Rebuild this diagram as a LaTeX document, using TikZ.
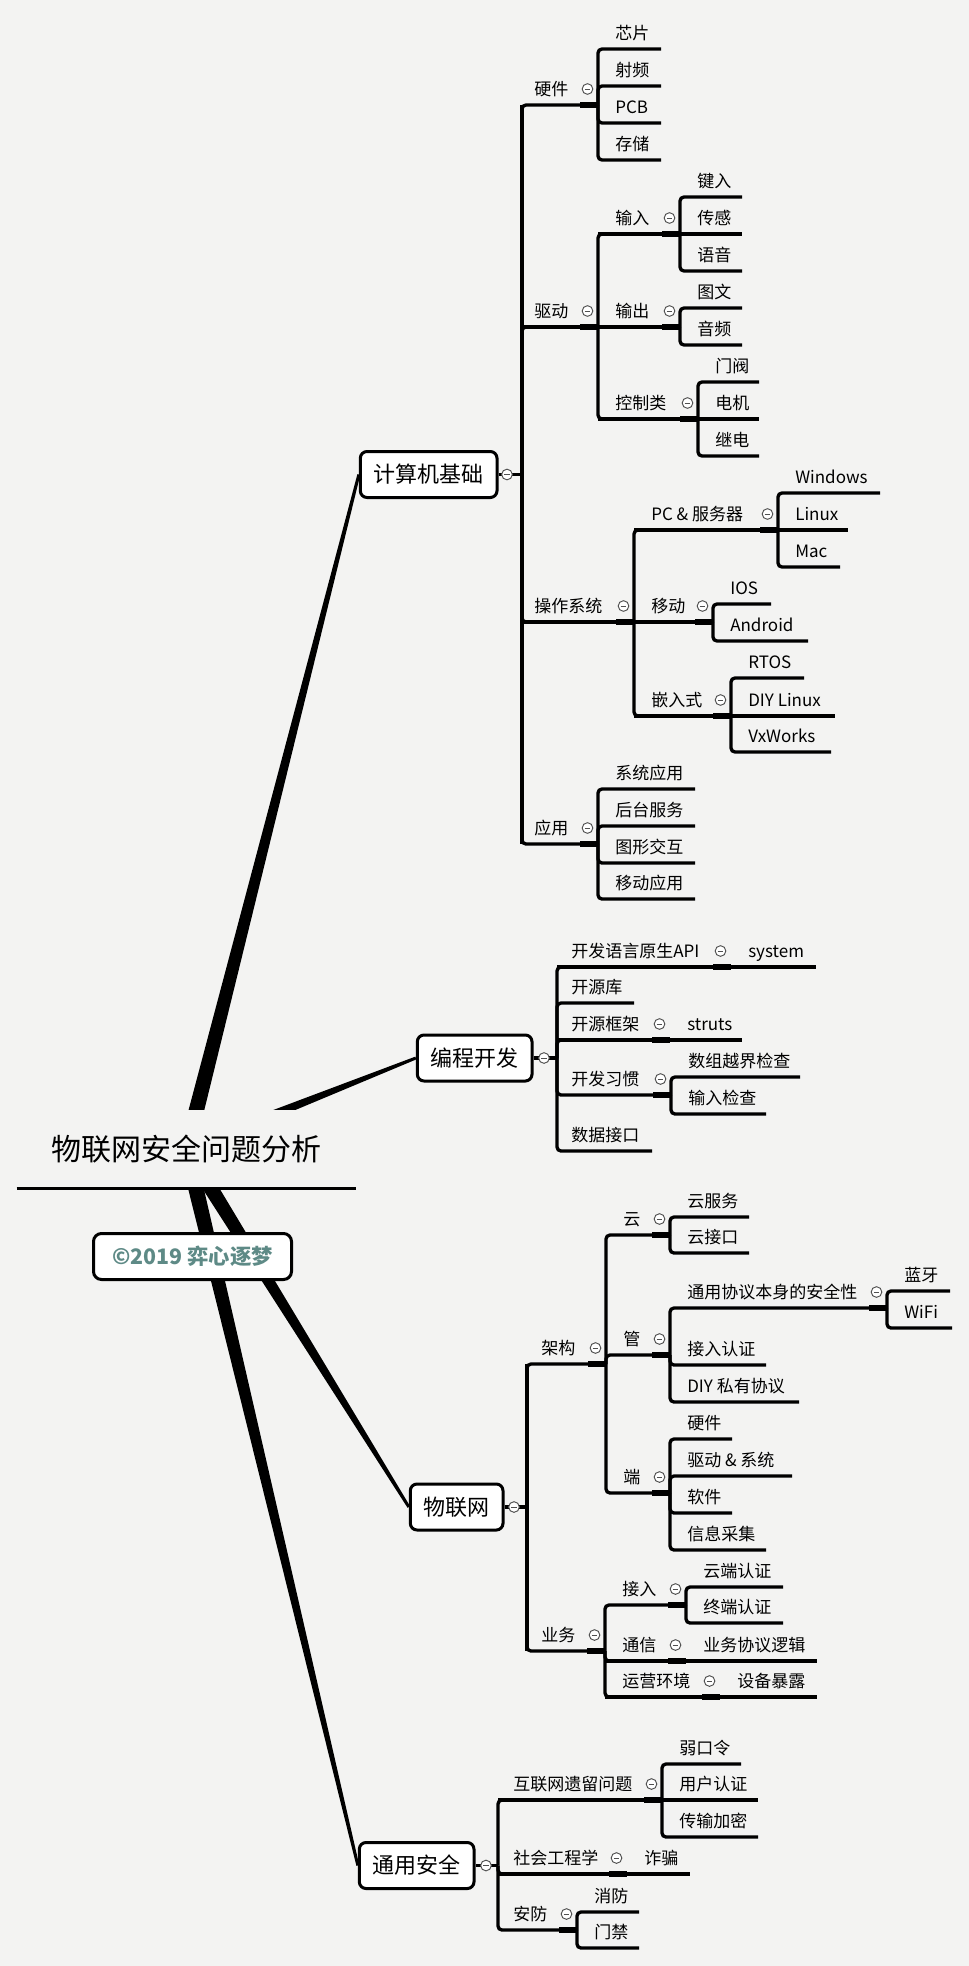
\documentclass[tikz,border=0pt]{standalone}
\usepackage{fontspec}
\setmainfont{Noto Sans CJK SC}
\usetikzlibrary{calc,backgrounds}
\definecolor{paper}{RGB}{243,243,242}
\definecolor{sage}{RGB}{94,138,134}
\definecolor{knob}{RGB}{80,80,80}
% one sub-topic: [label gap]{name}{parent junction}{x0}{y}{x1}{text}
\newcommand{\branch}[7][17]{%
  \coordinate (#2-a) at (#4,#5);
  \coordinate (#2-b) at (#6,#5);
  \node[lbl] (#2) at ([shift={(#1,-9.5)}]#2-a) {#7};
  \draw[ul] (#3) -- (#2-a) -- (#2-b);}
% collapse knob and thick stub in front of a bracket
\newcommand{\fold}[1]{%
  \draw[stub] ([xshift=-13.5pt]#1-b) -- (#1-b);
  \node[fold] (#1-f) at ([shift={(-10.5,-16)}]#1-b) {};}
% tapered main branch
\newcommand{\spoke}[3]{%
  \fill ($(#1)!#3!90:(#2)$) -- ($(#2)!1.1pt!-90:(#1)$) -- ($(#2)!1.1pt!90:(#1)$) -- ($(#1)!#3!-90:(#2)$) -- cycle;}
\tikzset{
  lbl/.style={anchor=base west, inner sep=0pt, font=\fontsize{12.75pt}{15pt}\selectfont},
  ul/.style={line width=2.5pt, rounded corners=3pt},
  stub/.style={line width=4pt},
  link/.style={line width=2.5pt},
  trunk/.style={line width=3.4pt},
  fold/.style={circle, draw=knob, line width=0.7pt, fill=white, minimum size=8pt, inner sep=0pt,
    path picture={\draw[knob, line width=0.7pt] ([xshift=-2.2pt]path picture bounding box.center) -- ([xshift=2.2pt]path picture bounding box.center);}},
  topic/.style={draw, line width=2.25pt, rounded corners=5pt, fill=white, inner xsep=10pt, minimum height=34.5pt, anchor=east, font=\fontsize{16.5pt}{19pt}\selectfont},
  title/.style={fill=paper, minimum width=254.25pt, minimum height=58.5pt, inner sep=0pt, font=\fontsize{22.5pt}{26pt}\selectfont},
  stamp/.style={draw, line width=2.25pt, rounded corners=6pt, fill=white, minimum width=148.5pt, minimum height=34.5pt, text=sage, font=\fontsize{16pt}{19pt}\selectfont\bfseries},
}
\begin{document}
\begin{tikzpicture}[x=0.75pt, y=-0.75pt]
  \useasboundingbox (0,0) rectangle (969,1966);
  % centre
  \node[title] (root) at (186.5,1149) {物联网安全问题分析};
  \draw[line width=2.5pt] (root.south west) -- (root.south east);
  \node[stamp] (cr) at (192.5,1256.5) {©2019 弈心逐梦};

  % main topics
  \node[topic] (jsj) at (498.5,474.5) {计算机基础};
  \node[topic] (bc) at (533.5,1058) {编程开发};
  \node[topic] (wlw) at (504.5,1507) {物联网};
  \node[topic] (ty) at (475.5,1865.5) {通用安全};
  \coordinate (jsj-j) at (522,474.5);
  \coordinate (bc-j) at (557,1058);
  \coordinate (wlw-j) at (527,1507);
  \coordinate (ty-j) at (498,1865.5);
  \draw[link] (jsj.east) -- (jsj-j);
  \draw[link] (bc.east) -- (bc-j);
  \draw[link] (wlw.east) -- (wlw-j);
  \draw[link] (ty.east) -- (ty-j);
  \node[fold] (jsj-f) at (507,474.5) {};
  \node[fold] (bc-f) at (544,1058) {};
  \node[fold] (wlw-f) at (514,1507) {};
  \node[fold] (ty-f) at (486,1865.5) {};

  % 计算机基础
  \branch[12]{hw}{jsj-j}{522}{105}{598}{硬件}
  \branch{chip}{hw-b}{598}{49}{661}{芯片}
  \branch{rf}{hw-b}{598}{86}{661}{射频}
  \branch{pcb}{hw-b}{598}{123}{661}{PCB}
  \branch{mem}{hw-b}{598}{160}{661}{存储}
  \fold{hw}
  \branch[12]{drv}{jsj-j}{522}{327}{598}{驱动}
  \branch{inp}{drv-b}{598}{234}{680}{输入}
  \branch{key}{inp-b}{680}{197}{742}{键入}
  \branch{sense}{inp-a}{680}{234}{742}{传感}
  \branch{voice}{inp-b}{680}{271}{742}{语音}
  \fold{inp}
  \branch{outp}{drv-a}{598}{327}{680}{输出}
  \branch{img}{outp-b}{680}{308}{742}{图文}
  \branch{snd}{outp-b}{680}{345}{742}{音频}
  \fold{outp}
  \branch{ctl}{drv-b}{598}{419}{698}{控制类}
  \branch{valve}{ctl-b}{698}{382}{759}{门阀}
  \branch{motor}{ctl-a}{698}{419}{759}{电机}
  \branch{relay}{ctl-b}{698}{456}{759}{继电}
  \fold{ctl}
  \fold{drv}
  \branch[12]{os}{jsj-j}{522}{622}{634}{操作系统}
  \branch{pc}{os-b}{634}{530}{778}{PC \& 服务器}
  \branch{win}{pc-b}{778}{493}{880}{Windows}
  \branch{lnx}{pc-a}{778}{530}{848}{Linux}
  \branch{mac}{pc-b}{778}{567}{840}{Mac}
  \fold{pc}
  \branch{mob}{os-a}{634}{622}{713}{移动}
  \branch{ios}{mob-b}{713}{604}{771}{IOS}
  \branch{andr}{mob-b}{713}{641}{808}{Android}
  \fold{mob}
  \branch{emb}{os-b}{634}{716}{731}{嵌入式}
  \branch{rtos}{emb-b}{731}{678}{804}{RTOS}
  \branch{diy}{emb-a}{731}{716}{835}{DIY Linux}
  \branch{vxw}{emb-b}{731}{752}{831}{VxWorks}
  \fold{emb}
  \fold{os}
  \branch[12]{app}{jsj-j}{522}{844}{598}{应用}
  \branch{sysapp}{app-b}{598}{789}{695}{系统应用}
  \branch{svc}{app-b}{598}{826}{695}{后台服务}
  \branch{gui}{app-b}{598}{863}{695}{图形交互}
  \branch{mapp}{app-b}{598}{899}{695}{移动应用}
  \fold{app}
  \draw[trunk] (hw-a) -- (app-a);

  % 编程开发
  \branch[14]{api}{bc-j}{557}{967}{731}{开发语言原生API}
  \branch{sys}{api-a}{731}{967}{816}{system}
  \fold{api}
  \branch[14]{lib}{bc-j}{557}{1003}{634}{开源库}
  \branch[14]{frm}{bc-j}{557}{1040}{670}{开源框架}
  \branch{struts}{frm-a}{670}{1040}{742}{struts}
  \fold{frm}
  \branch[14]{hab}{bc-j}{557}{1095}{671}{开发习惯}
  \branch{arr}{hab-b}{671}{1077}{800}{数组越界检查}
  \branch{chk}{hab-b}{671}{1114}{766}{输入检查}
  \fold{hab}
  \branch[14]{dif}{bc-j}{557}{1151}{652}{数据接口}

  % 物联网
  \branch[14]{arch}{wlw-j}{527}{1364}{606}{架构}
  \branch{cloud}{arch-b}{606}{1235}{670}{云}
  \branch{csvc}{cloud-b}{670}{1217}{749}{云服务}
  \branch{capi}{cloud-b}{670}{1253}{749}{云接口}
  \fold{cloud}
  \branch{pipe}{arch-b}{606}{1355}{670}{管}
  \branch{proto}{pipe-b}{670}{1308}{887}{通用协议本身的安全性}
  \branch{bt}{proto-b}{887}{1291}{950}{蓝牙}
  \branch{wifi}{proto-b}{887}{1328}{952}{WiFi}
  \fold{proto}
  \branch{auth}{pipe-b}{670}{1365}{766}{接入认证}
  \branch{priv}{pipe-b}{670}{1402}{799}{DIY 私有协议}
  \fold{pipe}
  \branch{term}{arch-b}{606}{1493}{670}{端}
  \branch{ehw}{term-b}{670}{1439}{732}{硬件}
  \branch{edrv}{term-b}{670}{1476}{792}{驱动 \& 系统}
  \branch{esw}{term-b}{670}{1513}{732}{软件}
  \branch{info}{term-b}{670}{1550}{766}{信息采集}
  \fold{term}
  \fold{arch}
  \branch[14]{biz}{wlw-j}{527}{1651}{605}{业务}
  \branch{acc}{biz-b}{605}{1605}{686}{接入}
  \branch{cauth}{acc-b}{686}{1587}{783}{云端认证}
  \branch{tauth}{acc-b}{686}{1623}{783}{终端认证}
  \fold{acc}
  \branch{comm}{biz-b}{605}{1661}{686}{通信}
  \branch{logic}{comm-a}{686}{1661}{817}{业务协议逻辑}
  \fold{comm}
  \branch{ops}{biz-b}{605}{1697}{720}{运营环境}
  \branch{expo}{ops-a}{720}{1697}{817}{设备暴露}
  \fold{ops}
  \fold{biz}
  \draw[trunk] (arch-a) -- (biz-a);

  % 通用安全
  \branch[15]{legacy}{ty-j}{498}{1800}{662}{互联网遗留问题}
  \branch{weak}{legacy-b}{662}{1764}{741}{弱口令}
  \branch{uauth}{legacy-a}{662}{1800}{758}{用户认证}
  \branch{enc}{legacy-b}{662}{1837}{758}{传输加密}
  \fold{legacy}
  \branch[15]{soc}{ty-j}{498}{1874}{627}{社会工程学}
  \branch{fraud}{soc-a}{627}{1874}{690}{诈骗}
  \fold{soc}
  \branch[15]{sec}{ty-j}{498}{1930}{577}{安防}
  \branch{fire}{sec-b}{577}{1912}{639}{消防}
  \branch{door}{sec-b}{577}{1948}{639}{门禁}
  \fold{sec}

  \begin{scope}[on background layer]
    \fill[paper] (0,0) rectangle (969,1966);
    \spoke{root.center}{jsj.west}{6pt}
    \spoke{root.center}{bc.west}{4.5pt}
    \spoke{root.center}{wlw.west}{6pt}
    \spoke{root.center}{ty.west}{6pt}
  \end{scope}
\end{tikzpicture}
\end{document}
